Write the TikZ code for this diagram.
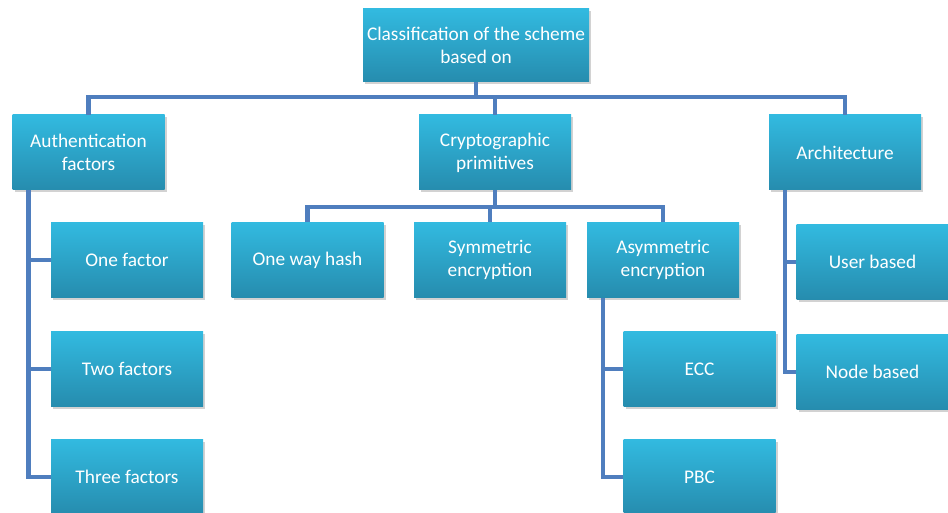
\documentclass[tikz,border=0pt]{standalone}
\usepackage{fontspec}
\setmainfont{Carlito}
\usetikzlibrary{shadows}
\definecolor{boxtop}{RGB}{50,186,224}
\definecolor{boxbot}{RGB}{38,140,174}
\definecolor{linkblue}{RGB}{79,126,190}
\tikzset{
  box/.style={rectangle, minimum width=152*0.02cm, minimum height=75*0.02cm,
    top color=boxtop, bottom color=boxbot, draw=none,
    drop shadow={shadow xshift=1.2pt, shadow yshift=-1.2pt, opacity=0.35},
    text=white, align=center, font=\fontsize{11}{13}\selectfont},
  link/.style={draw=linkblue, line width=2.3pt}
}
\begin{document}
\begin{tikzpicture}[x=0.02cm,y=-0.02cm]
\clip (0,0) rectangle (948,513);
\fill[white] (0,0) rectangle (948,513);

% top level
\node[box, inner xsep=1pt, minimum width=226*0.02cm, minimum height=73*0.02cm] (root) at (476,45.5) {Classification of the scheme\\based on};
\node[box] (auth) at (88.5,152.5) {Authentication\\factors};
\node[box] (crypto) at (495,152.5) {Cryptographic\\primitives};
\node[box] (arch) at (845,152.5) {Architecture};

% authentication factors
\node[box] (onefac) at (127,260) {One factor};
\node[box] (twofac) at (127,369) {Two factors};
\node[box] (threefac) at (127,477) {Three factors};

% cryptographic primitives
\node[box] (hash) at (307.5,260) {One way hash};
\node[box] (sym) at (490,260) {Symmetric\\encryption};
\node[box] (asym) at (663,260) {Asymmetric\\encryption};
\node[box] (ecc) at (699.5,369) {ECC};
\node[box] (pbc) at (699.5,477) {PBC};

% architecture
\node[box] (user) at (872.5,262) {User based};
\node[box] (nodeb) at (872.5,372) {Node based};

% connectors
\draw[link] (root.south) -- ++(0,15) coordinate (bus);
\draw[link] (auth.north) |- (bus) -| (arch.north);
\draw[link] (bus -| crypto.north) -- (crypto.north);

\draw[link] (crypto.south) -- ++(0,17) coordinate (cbus);
\draw[link] (hash.north) |- (cbus) -| (asym.north);
\draw[link] (cbus -| sym.north) -- (sym.north);

\draw[link] ([xshift=-1.2cm]auth.south) |- (onefac.west);
\draw[link] ([xshift=-1.2cm]auth.south) |- (twofac.west);
\draw[link] ([xshift=-1.2cm]auth.south) |- (threefac.west);

\draw[link] ([xshift=-1.2cm]asym.south) |- (ecc.west);
\draw[link] ([xshift=-1.2cm]asym.south) |- (pbc.west);

\draw[link] ([xshift=-1.2cm]arch.south) |- (user.west);
\draw[link] ([xshift=-1.2cm]arch.south) |- (nodeb.west);
\end{tikzpicture}
\end{document}
